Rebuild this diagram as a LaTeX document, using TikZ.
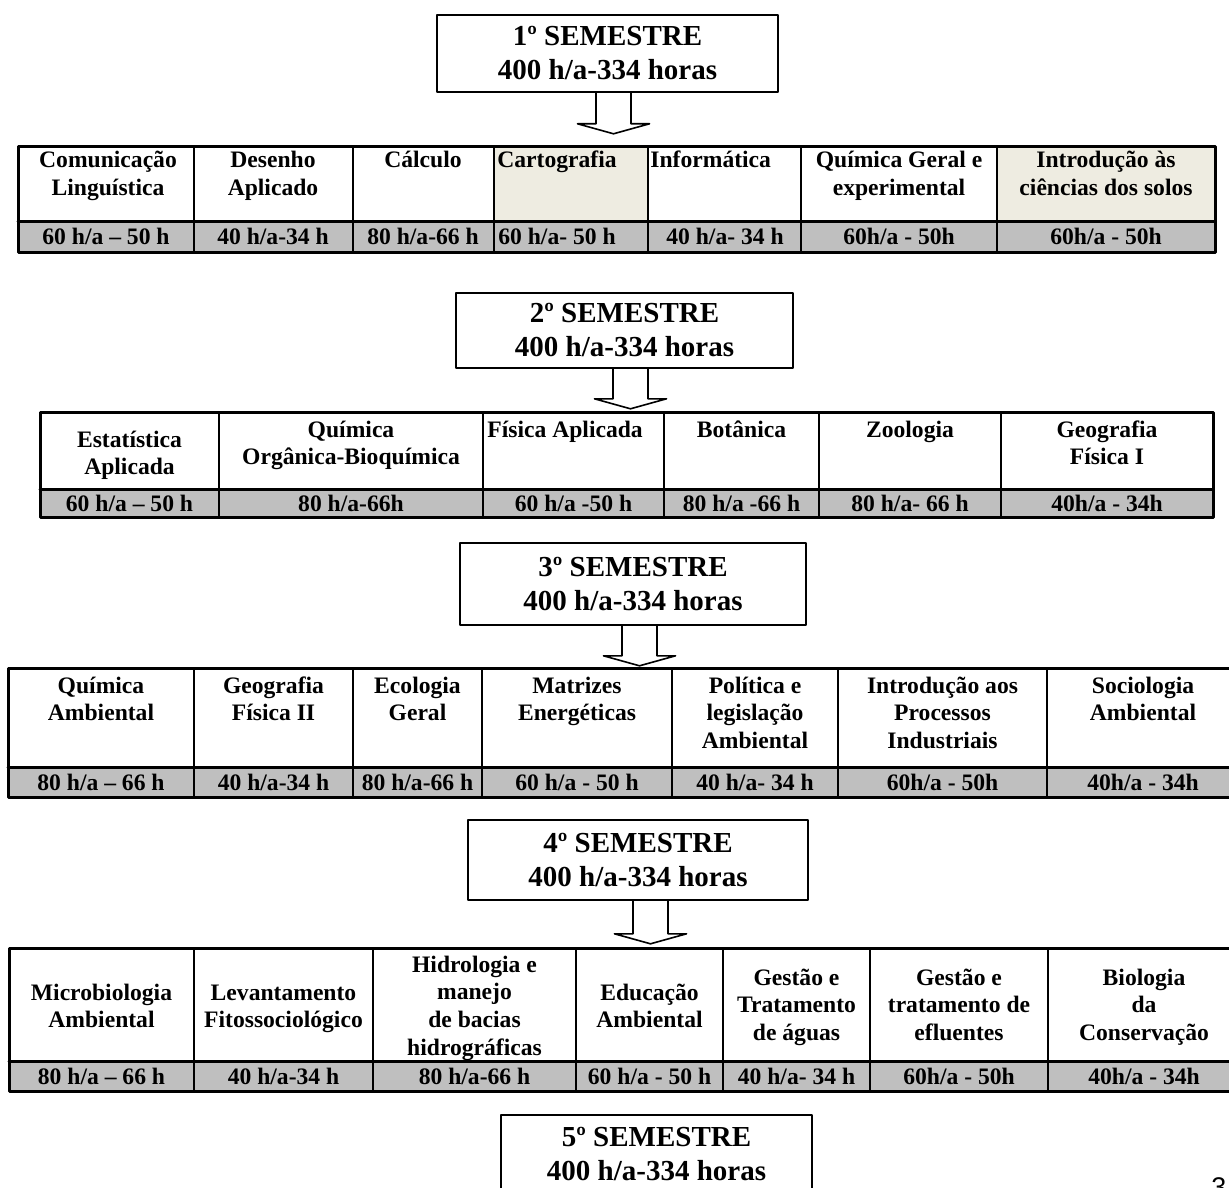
\documentclass[tikz,border=0pt]{standalone}
\usepackage{fontspec}
\setmainfont{Liberation Serif}
\newfontfamily\pagina{Liberation Sans}
\usetikzlibrary{calc}
\definecolor{horas}{RGB}{191,191,191}
\definecolor{bege}{RGB}{238,236,225}
\newcommand{\cel}[1]{\begin{tabular}[t]{@{}c@{}}#1\end{tabular}}
\newcommand{\seta}[3]{\draw[bloco] ($(#1.south)+(#2-17.5,0)$) -- ++(0,#3) -- ++(-18.5,0) -- ++(36,10) -- ++(36,-10) -- ++(-18.5,0) -- ++(0,-#3);}
\begin{document}
\begin{tikzpicture}[x=0.5pt,y=-0.5pt,line cap=round,line join=round,
		semestre/.style={draw, line width=0.8pt, fill=white, align=center, inner sep=0pt, font=\fontsize{14.5}{17}\selectfont\bfseries},
		disc/.style={anchor=base, inner sep=0pt, font=\fontsize{11.8}{13.85}\selectfont\bfseries},
		grosso/.style={line width=1.5pt},
		fino/.style={line width=1pt},
		bloco/.style={line width=0.8pt}]
			\useasboundingbox (0,0) rectangle (1229,1187);
			
			\node[semestre, minimum width=170.5pt, minimum height=38.5pt] (sem1) at (607.5,53.5) {1º SEMESTRE\\400 h/a-334 horas};
			\seta{sem1}{6}{31}
			
			\fill[horas] (18,222) rectangle (1215,253);
			\fill[bege] (494,147) rectangle (648,222) (997,147) rectangle (1215,222);
			\foreach \x in {194,353,494,648,801,997} \draw[fino] (\x,147) -- (\x,253);
			\draw[grosso] (18,147) rectangle (1215,253) (18,222) -- (1215,222);
			\node[disc] (d11) at (108,168) {\cel{Comunicação\\Linguística}};
			\node[disc] (d12) at (273,168) {\cel{Desenho\\Aplicado}};
			\node[disc] (d13) at (423,168) {Cálculo};
			\node[disc, anchor=base west] (d14) at (497,168) {Cartografia};
			\node[disc, anchor=base west] (d15) at (650,168) {Informática};
			\node[disc] (d16) at (899,168) {\cel{Química Geral e\\experimental}};
			\node[disc] (d17) at (1106,168) {\cel{Introdução às\\ciências dos solos}};
			\node[disc] (h11) at (106,245) {60 h/a – 50 h};
			\node[disc] (h12) at (273,245) {40 h/a-34 h};
			\node[disc] (h13) at (423,245) {80 h/a-66 h};
			\node[disc] (h14) at (557,245) {60 h/a- 50 h};
			\node[disc] (h15) at (725,245) {40 h/a- 34 h};
			\node[disc] (h16) at (899,245) {60h/a - 50h};
			\node[disc] (h17) at (1106,245) {60h/a - 50h};
			
			\node[semestre, minimum width=168.5pt, minimum height=37.5pt] (sem2) at (624.5,330.5) {2º SEMESTRE\\400 h/a-334 horas};
			\seta{sem2}{6}{30}
			
			\fill[horas] (40,489) rectangle (1213,517);
			\foreach \x in {219,483,664,819,1001} \draw[fino] (\x,412) -- (\x,517);
			\draw[grosso] (40,412) rectangle (1213,517) (40,489) -- (1213,489);
			\node[disc] (d21) at (129.5,447) {\cel{Estatística\\Aplicada}};
			\node[disc] (d22) at (351,437) {\cel{Química\\Orgânica-Bioquímica}};
			\node[disc, anchor=base west] (d23) at (487,437) {Física Aplicada};
			\node[disc] (d24) at (741.5,437) {Botânica};
			\node[disc] (d25) at (910,437) {Zoologia};
			\node[disc] (d26) at (1107,437) {\cel{Geografia\\Física I}};
			\node[disc] (h21) at (129.5,511) {60 h/a – 50 h};
			\node[disc] (h22) at (351,511) {80 h/a-66h};
			\node[disc] (h23) at (573.5,511) {60 h/a -50 h};
			\node[disc] (h24) at (741.5,511) {80 h/a -66 h};
			\node[disc] (h25) at (910,511) {80 h/a- 66 h};
			\node[disc] (h26) at (1107,511) {40h/a - 34h};
			
			\node[semestre, minimum width=173pt, minimum height=41pt] (sem3) at (633,584) {3º SEMESTRE\\400 h/a-334 horas};
			\seta{sem3}{6.5}{30}
			
			\fill[horas] (8,767) rectangle (1240,797);
			\foreach \x in {194,353,482,672,838,1047} \draw[fino] (\x,668) -- (\x,797);
			\draw[grosso] (8,668) rectangle (1240,797) (8,767) -- (1240,767);
			\node[disc] (d31) at (101,693) {\cel{Química\\Ambiental}};
			\node[disc] (d32) at (273.5,693) {\cel{Geografia\\Física II}};
			\node[disc] (d33) at (417.5,693) {\cel{Ecologia\\Geral}};
			\node[disc] (d34) at (577,693) {\cel{Matrizes\\Energéticas}};
			\node[disc] (d35) at (755,693) {\cel{Política e\\legislação\\Ambiental}};
			\node[disc] (d36) at (942.5,693) {\cel{Introdução aos\\Processos\\Industriais}};
			\node[disc] (d37) at (1143,693) {\cel{Sociologia\\Ambiental}};
			\node[disc] (h31) at (101,790) {80 h/a – 66 h};
			\node[disc] (h32) at (273.5,790) {40 h/a-34 h};
			\node[disc] (h33) at (417.5,790) {80 h/a-66 h};
			\node[disc] (h34) at (577,790) {60 h/a - 50 h};
			\node[disc] (h35) at (755,790) {40 h/a- 34 h};
			\node[disc] (h36) at (942.5,790) {60h/a - 50h};
			\node[disc] (h37) at (1143,790) {40h/a - 34h};
			
			\node[semestre, minimum width=170pt, minimum height=40pt] (sem4) at (638,860) {4º SEMESTRE\\400 h/a-334 horas};
			\seta{sem4}{12.5}{33}
			
			\fill[horas] (9,1061) rectangle (1240,1091);
			\foreach \x in {194,373,576,723,870,1048} \draw[fino] (\x,948) -- (\x,1091);
			\draw[grosso] (9,948) rectangle (1240,1091) (9,1061) -- (1240,1061);
			\node[disc] (d41) at (101.5,1000) {\cel{Microbiologia\\Ambiental}};
			\node[disc] (d42) at (283.5,1000) {\cel{Levantamento\\Fitossociológico}};
			\node[disc] (d43) at (474.5,972) {\cel{Hidrologia e\\manejo\\de bacias\\hidrográficas}};
			\node[disc] (d44) at (649.5,1000) {\cel{Educação\\Ambiental}};
			\node[disc] (d45) at (796.5,985) {\cel{Gestão e\\Tratamento\\de águas}};
			\node[disc] (d46) at (959,985) {\cel{Gestão e\\tratamento de\\efluentes}};
			\node[disc] (d47) at (1144,985) {\cel{Biologia\\da\\Conservação}};
			\node[disc] (h41) at (101.5,1084) {80 h/a – 66 h};
			\node[disc] (h42) at (283.5,1084) {40 h/a-34 h};
			\node[disc] (h43) at (474.5,1084) {80 h/a-66 h};
			\node[disc] (h44) at (649.5,1084) {60 h/a - 50 h};
			\node[disc] (h45) at (796.5,1084) {40 h/a- 34 h};
			\node[disc] (h46) at (959,1084) {60h/a - 50h};
			\node[disc] (h47) at (1144,1084) {40h/a - 34h};
			
			\node[semestre, minimum width=155.5pt, minimum height=39pt] (sem5) at (656.5,1154) {5º SEMESTRE\\400 h/a-334 horas};
			
			\node[anchor=base west, inner sep=0pt, font=\pagina\fontsize{13.5}{16}\selectfont] (pag) at (1211,1196) {3};
		\end{tikzpicture}
\end{document}
